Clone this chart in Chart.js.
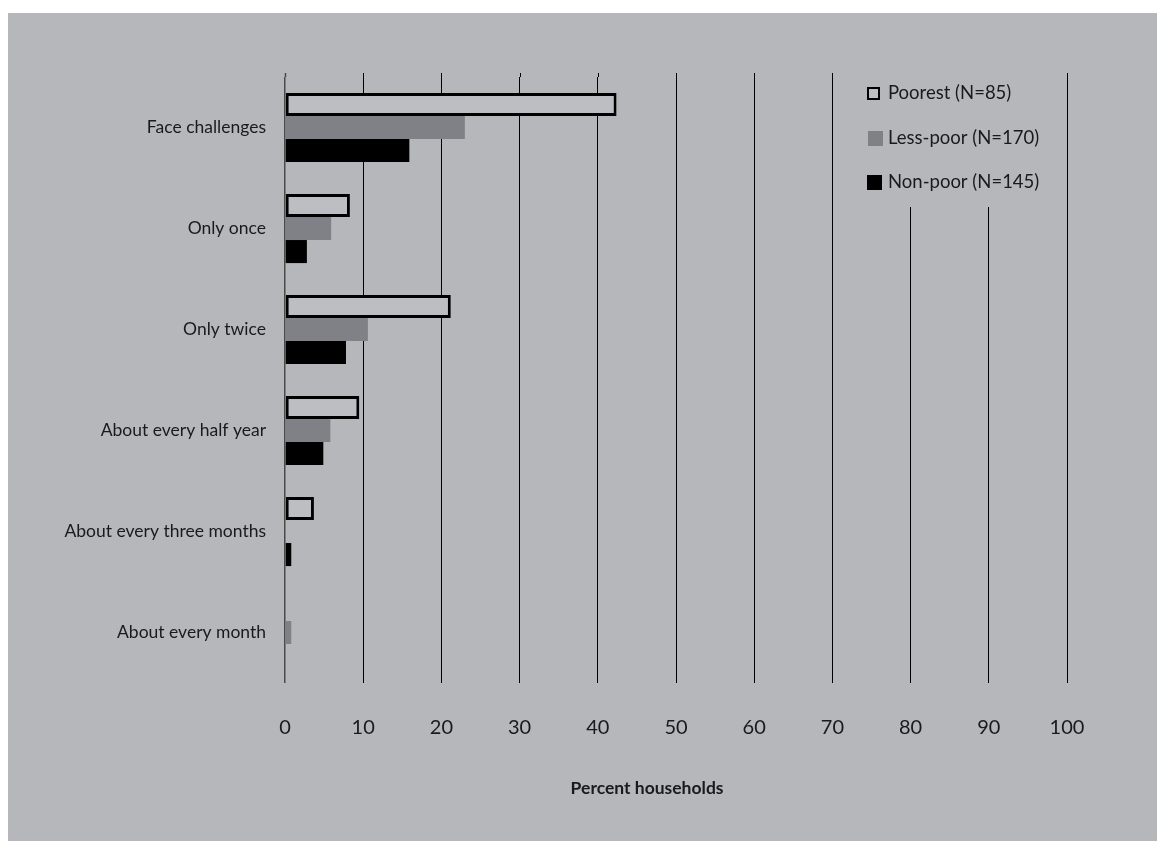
<!DOCTYPE html>
<html>
<head>
<meta charset="utf-8">
<script src="https://cdn.jsdelivr.net/npm/chart.js@4/dist/chart.umd.min.js"></script>
<style>
  html, body { margin: 0; padding: 0; background: #ffffff; }
  #wrap { position: absolute; left: 8px; top: 13px; width: 1149px; height: 828px; background: #b6b7bb; }
  #c { display: block; }
</style>
</head>
<body>
<div id="wrap"><canvas id="c" width="1149" height="828"></canvas></div>
<script>
const categories = ["Face challenges", "Only once", "Only twice", "About every half year", "About every three months", "About every month"];
const poorest  = [42.4, 8.3, 21.2, 9.5, 3.7, 0];
const lessPoor = [23.0, 5.9, 10.6, 5.8, 0, 0.8];
const nonPoor  = [15.9, 2.8, 7.8, 4.9, 0.8, 0];
const seriesLabels = ["Poorest (N=85)", "Less-poor (N=170)", "Non-poor (N=145)"];
const xTicks = [0, 10, 20, 30, 40, 50, 60, 70, 80, 90, 100];
const axisTitle = "Percent households";

const BG = "#b6b7bb";
const FONT = "Lato, 'Open Sans', sans-serif";
const TXT = "#1a1a1a";

const extrasPlugin = {
  id: "extras",
  beforeDatasetsDraw(chart) {
    const ctx = chart.ctx;
    const x = chart.scales.x;
    const top = chart.chartArea.top;
    ctx.save();
    // short extension of the vertical grid lines above the first category
    xTicks.forEach(v => {
      const px = Math.round(x.getPixelForValue(v)) + 0.5;
      ctx.strokeStyle = v === 0 ? "#4a4a4a" : "#000000";
      ctx.lineWidth = v === 0 ? 1.5 : 1;
      ctx.beginPath();
      ctx.moveTo(px, top - 4);
      ctx.lineTo(px, top);
      ctx.stroke();
    });
    // legend panel hides grid lines behind it
    const left = x.getPixelForValue(72);
    const right = x.getPixelForValue(98);
    ctx.fillStyle = BG;
    ctx.fillRect(left, top - 5, right - left, 135);
    const items = [
      { fill: "#bdbec1", stroke: "#000", bx: 859, by: 74, s: 13, ty: 80 },
      { fill: "#808186", stroke: null, bx: 860, by: 118, s: 15, ty: 125 },
      { fill: "#000000", stroke: null, bx: 859, by: 162, s: 15, ty: 169 }
    ];
    ctx.font = "18.5px " + FONT;
    ctx.textBaseline = "middle";
    ctx.textAlign = "left";
    items.forEach((it, i) => {
      ctx.fillStyle = it.fill;
      ctx.fillRect(it.bx, it.by, it.s, it.s);
      if (it.stroke) {
        ctx.strokeStyle = it.stroke;
        ctx.lineWidth = 2;
        ctx.strokeRect(it.bx + 1, it.by + 1, it.s - 2, it.s - 2);
      }
      ctx.fillStyle = TXT;
      ctx.fillText(seriesLabels[i], 880, it.ty);
    });
    ctx.restore();
  },
  afterDraw(chart) {
    const ctx = chart.ctx;
    ctx.save();
    ctx.font = "bold 17.5px " + FONT;
    ctx.fillStyle = TXT;
    ctx.textAlign = "center";
    ctx.textBaseline = "middle";
    ctx.fillText(axisTitle, chart.scales.x.getPixelForValue(46.3), 775);
    ctx.restore();
  }
};

new Chart(document.getElementById("c"), {
  type: "bar",
  data: {
    labels: categories,
    datasets: [
      { label: seriesLabels[0], data: poorest, backgroundColor: "#bdbec1", borderColor: "#000",
        borderWidth: c => (c.raw ? 3 : 0), borderSkipped: false },
      { label: seriesLabels[1], data: lessPoor, backgroundColor: "#808186", borderWidth: 0 },
      { label: seriesLabels[2], data: nonPoor, backgroundColor: "#000000", borderWidth: 0 }
    ]
  },
  options: {
    indexAxis: "y",
    responsive: false,
    animation: false,
    layout: { padding: { top: 64, right: 90, left: 0, bottom: 0 } },
    datasets: { bar: { barPercentage: 1.0, categoryPercentage: 0.685 } },
    plugins: { legend: { display: false }, tooltip: { enabled: false } },
    scales: {
      x: {
        min: 0, max: 100,
        afterBuildTicks: s => { s.ticks = xTicks.map(v => ({ value: v })); },
        afterFit: s => { s.height = 158; },
        grid: {
          drawTicks: false,
          color: c => (c.tick && c.tick.value === 0 ? "#4a4a4a" : "#000000"),
          lineWidth: c => (c.tick && c.tick.value === 0 ? 1.5 : 1)
        },
        border: { display: false },
        ticks: { padding: 33, color: TXT, font: { family: FONT, size: 20 } },
        title: { display: false }
      },
      y: {
        afterFit: s => { s.width = 277; },
        grid: { display: false, drawTicks: false },
        border: { display: false },
        ticks: { padding: 19, color: TXT, font: { family: FONT, size: 17.5 } }
      }
    }
  },
  plugins: [extrasPlugin]
});
</script>
</body>
</html>
